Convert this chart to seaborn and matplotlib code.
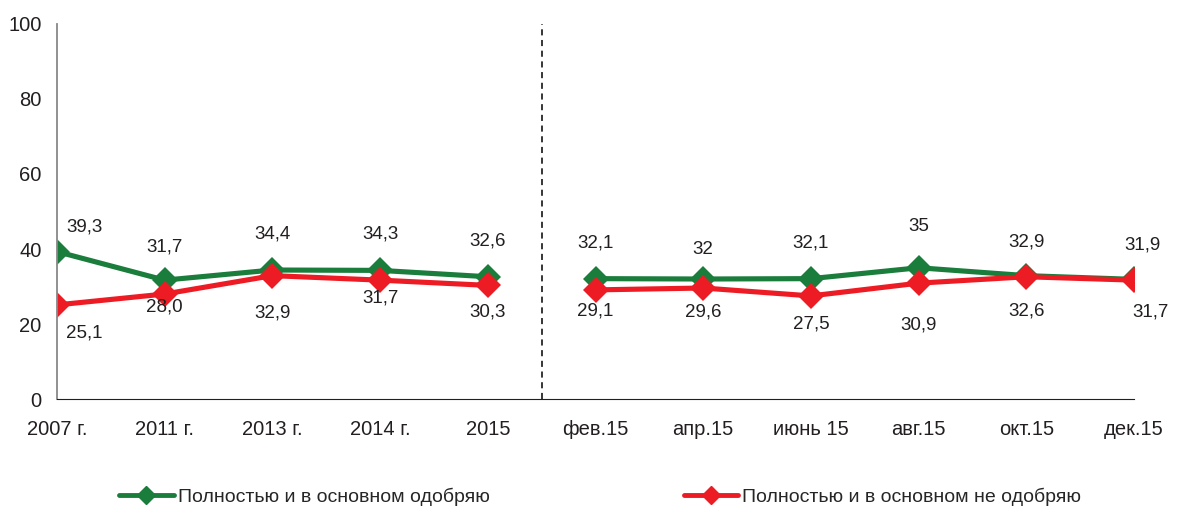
import pandas as pd
import matplotlib
matplotlib.use("Agg")
import matplotlib.pyplot as plt
from matplotlib.lines import Line2D
import seaborn as sns

# Data
categories = ['2007 г.', '2011 г.', '2013 г.', '2014 г.', '2015',
              'фев.15', 'апр.15', 'июнь 15', 'авг.15', 'окт.15', 'дек.15']
segments = [0, 0, 0, 0, 0, 1, 1, 1, 1, 1, 1]
approve = [39.3, 31.7, 34.4, 34.3, 32.6, 32.1, 32.0, 32.1, 35.0, 32.9, 31.9]
disapprove = [25.1, 28.0, 32.9, 31.7, 30.3, 29.1, 29.6, 27.5, 30.9, 32.6, 31.7]
approve_labels = ['39,3', '31,7', '34,4', '34,3', '32,6', '32,1', '32', '32,1', '35', '32,9', '31,9']
disapprove_labels = ['25,1', '28,0', '32,9', '31,7', '30,3', '29,1', '29,6', '27,5', '30,9', '32,6', '31,7']
series_names = ['Полностью и в основном одобряю', 'Полностью и в основном не одобряю']

# label offsets (points)
approve_off = [(20, 18), (0, 24), (0, 26), (0, 26), (0, 26), (0, 26), (0, 21), (0, 26), (0, 30), (0, 24), (6, 25)]
disapprove_off = [(20, -20), (0, -9), (0, -27), (0, -13), (0, -19), (0, -15), (0, -17), (0, -20), (0, -30), (0, -25), (12, -23)]

green = '#1A7D3C'
red = '#ED1C24'

rows = []
for i, cat in enumerate(categories):
    rows.append({'pos': i, 'value': approve[i], 'series': series_names[0], 'seg': segments[i]})
for i, cat in enumerate(categories):
    rows.append({'pos': i, 'value': disapprove[i], 'series': series_names[1], 'seg': segments[i]})
df = pd.DataFrame(rows)

sns.set_style('white')
plt.rcParams['font.family'] = ['Liberation Sans', 'DejaVu Sans']

fig = plt.figure(figsize=(11.77, 5.09), dpi=100)
ax = fig.add_axes([0.0484, 0.216, 0.9151, 0.737])

sns.lineplot(data=df, x='pos', y='value', hue='series', units='seg', estimator=None,
             palette=[green, red], hue_order=series_names, marker='D', markersize=13,
             markeredgewidth=0, linewidth=3.7, legend=False, ax=ax)

ax.axvline(4.5, color='black', linestyle=(0, (4, 3)), linewidth=1.1)

for i in range(len(categories)):
    ax.annotate(approve_labels[i], (i, approve[i]), xytext=approve_off[i], textcoords='offset points',
                ha='center', va='center', fontsize=13.5, color='#231F20')
    ax.annotate(disapprove_labels[i], (i, disapprove[i]), xytext=disapprove_off[i], textcoords='offset points',
                ha='center', va='center', fontsize=13.5, color='#231F20')

ax.set_xlim(0, len(categories) - 1)
ax.set_ylim(0, 100)
ax.set_yticks([0, 20, 40, 60, 80, 100])
ax.set_xticks(range(len(categories)))
ax.set_xticklabels(categories)
ax.set_xlabel('')
ax.set_ylabel('')
ax.tick_params(axis='both', labelsize=14.5, colors='#231F20', length=5, width=1, pad=6, direction='out')
ax.tick_params(axis='x', color='#231F20', pad=10)
ax.tick_params(axis='y', color='#555555')
sns.despine(ax=ax, top=True, right=True)
ax.spines['left'].set_color('#888888')
ax.spines['left'].set_linewidth(1.3)
ax.spines['bottom'].set_color('#231F20')

handles = [Line2D([], [], color=green, marker='D', markersize=9, linewidth=3.5),
           Line2D([], [], color=red, marker='D', markersize=9, linewidth=3.5)]
fig.legend(handles, series_names, loc='center', bbox_to_anchor=(0.51, 0.024), ncol=2,
           frameon=False, fontsize=14, handlelength=2.8, handletextpad=0.2, columnspacing=10)

fig.savefig('out.png', dpi=100)
